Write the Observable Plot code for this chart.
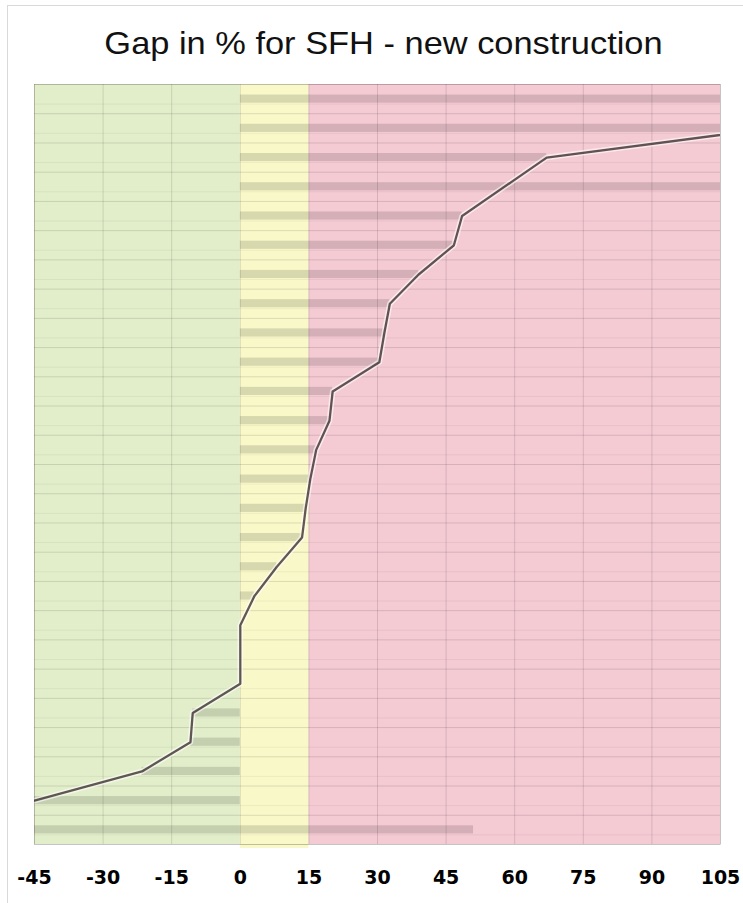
<!DOCTYPE html>
<html>
<head>
<meta charset="utf-8">
<script src="https://cdn.jsdelivr.net/npm/d3@7"></script>
<script src="https://cdn.jsdelivr.net/npm/@observablehq/plot@0.6"></script>
<style>
  html, body { margin: 0; padding: 0; background: #fff; overflow: hidden; }
  #wrap { position: relative; width: 743px; height: 903px; overflow: hidden; }
  #border { position: absolute; left: 7px; top: 5px; width: 900px; height: 1000px; border: 1px solid #d9d9d9; box-sizing: border-box; }
  #title { position: absolute; left: 12px; top: 25px; width: 743px; text-align: center;
           font-family: "Liberation Sans", Arial, sans-serif; font-size: 32px; line-height: 37px; color: #111;
           white-space: nowrap; transform: scaleX(1.075); transform-origin: 371.5px 0; }
  #chart { position: absolute; left: 0; top: 80px; }
</style>
</head>
<body>
<div id="wrap">
  <div id="border"></div>
  <div id="title">Gap in % for SFH - new construction</div>
  <div id="chart"></div>
</div>
<script>
// ---- data (rows top to bottom) ----
const barFrom = [0, 0, 0, 0, 0, 0, 0, 0, 0, 0, 0, 0, 0, 0, 0, 0, 0, 0, 0, 0, 0, 0, 0, 0, 0, -45];
const barTo   = [150, 116, 67, 130, 48.5, 46.7, 39, 32.7, 31.5, 30.4, 20.2, 19.5, 16.6, 15.3, 14.3, 13.5, 8, 3.1, 0, 0, 0, -10.4, -10.9, -21.5, -45, 51];
const lineValues = [150, 116, 67, null, 48.5, 46.7, 39, 32.7, 31.5, 30.4, 20.2, 19.5, 16.6, 15.3, 14.3, 13.5, 8, 3.1, 0, 0, 0, -10.4, -10.9, -21.5, -45, null];
const xTicks = [-45, -30, -15, 0, 15, 30, 45, 60, 75, 90, 105];
const zoneFrom = [-45, 0, 15];
const zoneTo = [0, 15, 105];
const zoneColors = ["#e2eeca", "#f9f8c9", "#f4cad3"];

const rowCount = barTo.length;
const rows = barTo.map((v, i) => ({i, from: barFrom[i], to: v}));
const linePts = lineValues.map((v, i) => ({i, v})).filter(d => d.v !== null);
const zones = zoneFrom.map((f, i) => ({x1: f, x2: zoneTo[i], fill: zoneColors[i]}));

const chart = Plot.plot({
  width: 743,
  height: 823,
  marginTop: 4,
  marginBottom: 59,
  marginLeft: 34,
  marginRight: 23,
  style: {fontFamily: "'DejaVu Sans', Verdana, sans-serif", fontSize: "19px", fontWeight: "bold", color: "#000", background: "transparent", overflow: "visible"},
  x: {domain: [-45, 105], ticks: xTicks, tickSize: 0, tickPadding: 26, label: null, tickFormat: d => String(d)},
  y: {domain: [0, rowCount], reverse: true, axis: null},
  color: {type: "identity"},
  marks: [
    Plot.rectX(zones, {x1: "x1", x2: "x2", fill: "fill"}),
    Plot.rectX(zones.slice(1, 2), {x1: "x1", x2: "x2", fill: "fill", insetBottom: -4}),
    Plot.ruleX(xTicks, {stroke: "#000", strokeOpacity: 0.12}),
    Plot.ruleY(d3.range(rowCount + 1), {stroke: "#000", strokeOpacity: 0.12}),
    Plot.ruleY(rows, {y: d => d.i + 0.67, stroke: "#000", strokeOpacity: 0.05}),
    Plot.rectX(rows, {x1: "from", x2: "to", y1: d => d.i + 0.36, y2: d => d.i + 0.64, fill: "#000", fillOpacity: 0.13, clip: true}),
    Plot.line(linePts, {x: "v", y: d => d.i + 0.5, stroke: "#fff", strokeWidth: 5.5, strokeOpacity: 0.6, strokeLinejoin: "round", clip: true}),
    Plot.line(linePts, {x: "v", y: d => d.i + 0.5, stroke: "#1a0a0a", strokeWidth: 2.3, strokeOpacity: 0.68, strokeLinejoin: "round", clip: true}),
    Plot.frame({stroke: "#000", strokeOpacity: 0.12})
  ]
});
document.getElementById("chart").appendChild(chart);
</script>
</body>
</html>
